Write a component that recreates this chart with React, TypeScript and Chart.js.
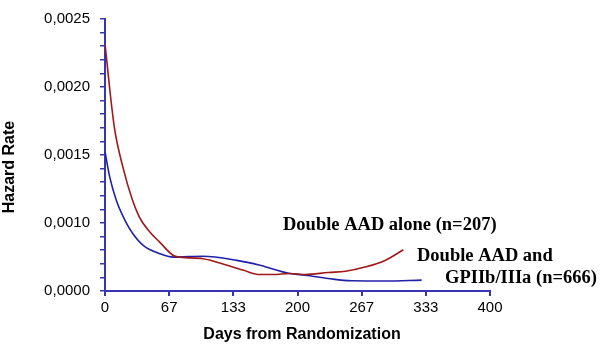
import React, { useEffect, useRef } from "react";
import { Chart, registerables } from "chart.js";

Chart.register(...registerables);

// Days from randomization and hazard rates
const aloneDays = [0, 5, 10, 19, 28, 36, 47, 57, 71, 78, 102, 127, 144, 161, 175, 192, 208, 232, 250, 270, 291, 310];
const aloneRate = [0.00232, 0.00198, 0.00169, 0.0014, 0.00118, 0.00104, 0.00093, 0.000858, 0.000761, 0.000749, 0.000737, 0.000689, 0.000652, 0.000621, 0.000621, 0.000629, 0.000621, 0.000636, 0.000645, 0.000676, 0.000725, 0.000803];

const gpDays = [0, 5, 12, 21, 29, 40, 57, 71, 102, 137, 161, 192, 208, 232, 256, 291, 329];
const gpRate = [0.001524, 0.001335, 0.001161, 0.001016, 0.000921, 0.000834, 0.000774, 0.000749, 0.000756, 0.000725, 0.000689, 0.000629, 0.000616, 0.000592, 0.000575, 0.000573, 0.00058];

const xTickValues = [0, 400 / 6, 800 / 6, 200, 1600 / 6, 2000 / 6, 400];
const xTickLabels = ["0", "67", "133", "200", "267", "333", "400"];

const yMin = 0.0005;
const yMax = 0.0025;
const yMinorStep = 0.0001;
const yTickLabels = ["0,0000", "0,0010", "0,0015", "0,0020", "0,0025"];

const xTitle = "Days from Randomization";
const yTitle = "Hazard Rate";
const labelAlone = ["Double AAD alone (n=207)"];
const labelGp = ["Double AAD and", "GPIIb/IIIa (n=666)"];

const AXIS = "#3636b4";
const RED = "#a01818";
const BLUE = "#2020a8";
const SANS = "'Liberation Sans', Arial, sans-serif";
const SERIF = "'Liberation Serif', 'Times New Roman', serif";

export default function App() {
  const ref = useRef<HTMLCanvasElement | null>(null);

  useEffect(() => {
    if (!ref.current) return;
    const textPlugin = {
      id: "texts",
      afterDraw(chart: any) {
        const ctx = chart.ctx;
        ctx.save();
        ctx.fillStyle = "#000";
        ctx.font = `bold 16px ${SANS}`;
        ctx.textAlign = "center";
        ctx.textBaseline = "middle";
        ctx.fillText(xTitle, 302, 335);
        ctx.save();
        ctx.translate(10, 167);
        ctx.rotate(-Math.PI / 2);
        ctx.fillText(yTitle, 0, 0);
        ctx.restore();
        ctx.font = `bold 18.5px ${SERIF}`;
        ctx.textAlign = "left";
        ctx.fillText(labelAlone[0], 283, 225);
        ctx.fillText(labelGp[0], 417, 256);
        ctx.fillText(labelGp[1], 445, 278);
        ctx.restore();
      },
    };

    const chart = new Chart(ref.current, {
      type: "line",
      data: {
        datasets: [
          {
            label: labelAlone[0],
            data: aloneDays.map((d, i) => ({ x: d, y: aloneRate[i] })),
            borderColor: RED,
            borderWidth: 1.6,
            pointRadius: 0,
            fill: false,
            cubicInterpolationMode: "monotone",
          },
          {
            label: labelGp.join(" "),
            data: gpDays.map((d, i) => ({ x: d, y: gpRate[i] })),
            borderColor: BLUE,
            borderWidth: 1.6,
            pointRadius: 0,
            fill: false,
            cubicInterpolationMode: "monotone",
          },
        ],
      },
      options: {
        animation: false,
        responsive: true,
        maintainAspectRatio: false,
        layout: { padding: { left: 0, top: 16, right: 110, bottom: 0 } },
        plugins: { legend: { display: false }, tooltip: { enabled: false } },
        scales: {
          x: {
            type: "linear",
            min: 0,
            max: 400,
            afterBuildTicks: (scale: any) => {
              scale.ticks = xTickValues.map((v) => ({ value: v }));
            },
            afterFit: (scale: any) => {
              scale.height = 60;
            },
            ticks: {
              autoSkip: false,
              maxRotation: 0,
              padding: 3,
              color: "#000",
              font: { family: SANS, size: 15 },
              callback: (_v: any, i: number) => xTickLabels[i],
            },
            grid: { drawOnChartArea: false, drawTicks: true, tickLength: 5, color: AXIS, lineWidth: 2 },
            border: { display: true, color: AXIS, width: 2 },
          },
          y: {
            type: "linear",
            min: yMin,
            max: yMax,
            afterBuildTicks: (scale: any) => {
              const t = [];
              const n = Math.round((yMax - yMin) / yMinorStep);
              for (let i = 0; i <= n; i++) t.push({ value: yMin + i * yMinorStep });
              scale.ticks = t;
            },
            afterFit: (scale: any) => {
              scale.width = 105;
            },
            ticks: {
              autoSkip: false,
              padding: 10,
              color: "#000",
              font: { family: SANS, size: 15 },
              callback: (_v: any, i: number) => (i % 5 === 0 ? yTickLabels[i / 5] : ""),
            },
            grid: { drawOnChartArea: false, drawTicks: true, tickLength: 5, color: AXIS, lineWidth: 1.5 },
            border: { display: true, color: AXIS, width: 2 },
          },
        },
      },
      plugins: [textPlugin],
    } as any);
    return () => chart.destroy();
  }, []);

  return (
    <div style={{ position: "absolute", left: 0, top: 0, width: 600, height: 351, background: "#fff" }}>
      <canvas ref={ref} />
    </div>
  );
}
